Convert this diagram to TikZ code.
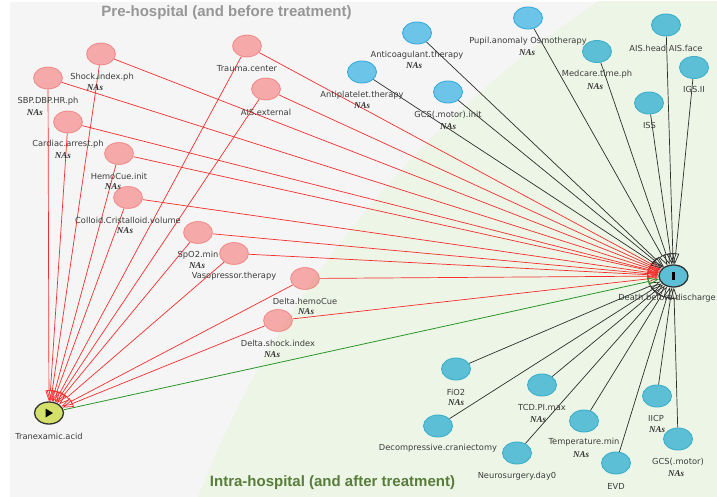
\documentclass[tikz,border=0pt]{standalone}
\usepackage{fontspec}
\setmainfont{DejaVu Sans}
\newfontfamily\nasfont{Liberation Serif}
\newfontfamily\ttlfont{Liberation Sans}
\usetikzlibrary{arrows.meta,shapes.geometric}
\definecolor{bggray}{RGB}{245,245,245}
\definecolor{bggreen}{RGB}{237,245,230}
\definecolor{pinkfill}{RGB}{246,55,55}
\definecolor{pinkdraw}{RGB}{240,90,90}
\definecolor{lbfill}{RGB}{108,196,232}
\definecolor{lbdraw}{RGB}{58,172,224}
\definecolor{tlfill}{RGB}{92,191,213}
\definecolor{tldraw}{RGB}{62,176,204}
\definecolor{yfill}{RGB}{212,224,106}
\definecolor{darkst}{RGB}{51,51,51}
\definecolor{edgered}{RGB}{245,45,45}
\definecolor{edgeblk}{RGB}{45,45,45}
\definecolor{edgegrn}{RGB}{40,150,40}
\definecolor{labtxt}{RGB}{60,60,60}
\definecolor{ttlgray}{RGB}{150,150,150}
\definecolor{ttlgreen}{RGB}{88,125,58}
\pgfdeclarelayer{bglayer}
\pgfdeclarelayer{edgelayer}
\pgfsetlayers{bglayer,edgelayer,main}
\tikzset{
  nd/.style={ellipse, minimum width=29pt, minimum height=22pt, inner sep=0pt, line width=0.9pt},
  pinknd/.style={nd, fill=pinkfill, fill opacity=0.4, draw=pinkdraw, draw opacity=0.5},
  lbnd/.style={nd, fill=lbfill, draw=lbdraw},
  tlnd/.style={nd, fill=tlfill, draw=tldraw},
  lab/.style={inner sep=0pt, text=labtxt, font=\fontsize{8.3}{9}\selectfont},
  nas/.style={inner sep=0pt, text=darkst, font=\nasfont\bfseries\itshape\fontsize{9}{10}\selectfont},
  ttl/.style={inner sep=0pt, font=\ttlfont\bfseries\fontsize{15}{17}\selectfont},
  tipsty/.style={-{Triangle[open,length=11pt,width=7pt]}},
  redarr/.style={draw=edgered, line width=0.7pt, tipsty},
  blkarr/.style={draw=edgeblk, line width=0.7pt, tipsty},
  grnarr/.style={draw=edgegrn, line width=0.8pt, tipsty},
}
\begin{document}
\begin{tikzpicture}[x=1pt,y=-1pt]
\useasboundingbox (0,0) rectangle (717,497);
\begin{pgfonlayer}{bglayer}
  \fill[white] (0,0) rectangle (717,497);
  \fill[bggray] (10,2) rectangle (717,497);
  \begin{scope}
    \clip (10,2) rectangle (717,497);
    \fill[bggreen] (1176,877) circle[radius=1049pt];
  \end{scope}
\end{pgfonlayer}

% titles
\node[ttl, text=ttlgray] (t1) at (226.5,13) {Pre-hospital (and before treatment)};
\node[ttl, text=ttlgreen] (t2) at (332.5,483) {Intra-hospital (and after treatment)};

% pink nodes
\node[pinknd] (shock) at (101,54) {};
\node[lab] (shockL) at (102,77) {Shock.index.ph};
\node[nas] (shockN) at (95,87.5) {NAs};
\node[pinknd] (sbp) at (48,78) {};
\node[lab] (sbpL) at (48,101) {SBP.DBP.HR.ph};
\node[nas] (sbpN) at (35,113) {NAs};
\node[pinknd] (trauma) at (247,46) {};
\node[lab] (traumaL) at (247,68.5) {Trauma.center};
\node[pinknd] (aisext) at (266,89) {};
\node[lab] (aisextL) at (266,112) {AIS.external};
\node[pinknd] (cardiac) at (68,122) {};
\node[lab] (cardiacL) at (68,144.5) {Cardiac.arrest.ph};
\node[nas] (cardiacN) at (63,155.5) {NAs};
\node[pinknd] (hemo) at (119,153.5) {};
\node[lab] (hemoL) at (119,176) {HemoCue.init};
\node[nas] (hemoN) at (113,186.5) {NAs};
\node[pinknd] (colloid) at (128,197.5) {};
\node[lab] (colloidL) at (128,220) {Colloid.Cristalloid.volume};
\node[nas] (colloidN) at (125,230.5) {NAs};
\node[pinknd] (spo) at (198,232.5) {};
\node[lab] (spoL) at (198,255) {SpO2.min};
\node[nas] (spoN) at (197,266) {NAs};
\node[pinknd] (vaso) at (234,253.5) {};
\node[lab] (vasoL) at (234,276) {Vasopressor.therapy};
\node[pinknd] (dhemo) at (305,278.5) {};
\node[lab] (dhemoL) at (305,301) {Delta.hemoCue};
\node[nas] (dhemoN) at (306,311.5) {NAs};
\node[pinknd] (dshock) at (278,320.5) {};
\node[lab] (dshockL) at (278,343) {Delta.shock.index};
\node[nas] (dshockN) at (272,355) {NAs};

% exposure
\node[nd, fill=yfill, draw=darkst, line width=1.3pt] (tranex) at (49,413) {};
\node[lab] (tranexL) at (49,436) {Tranexamic.acid};
\fill[black] (45.5,408.5) -- (45.5,417.5) -- (53,413) -- cycle;

% outcome
\node[nd, fill=tlfill, draw=darkst, line width=1.3pt] (death) at (673.5,276) {};
\node[lab, anchor=east] (deathL) at (716,298) {Death.before.discharge};
\fill[black] (672.3,271.5) rectangle (674.7,279.5);

% light blue nodes
\node[lbnd] (anticoag) at (417,33) {};
\node[lab] (anticoagL) at (417,55) {Anticoagulant.therapy};
\node[nas] (anticoagN) at (414,66) {NAs};
\node[lbnd] (antiplat) at (362,72) {};
\node[lab] (antiplatL) at (362,95) {Antiplatelet.therapy};
\node[nas] (antiplatN) at (362,105.5) {NAs};
\node[lbnd] (gcsinit) at (448,92) {};
\node[lab] (gcsinitL) at (448,115) {GCS(.motor).init};
\node[nas] (gcsinitN) at (448,127) {NAs};
\node[lbnd] (pupil) at (528,18) {};
\node[lab] (pupilL) at (528,41) {Pupil.anomaly Osmotherapy};
\node[nas] (pupilN) at (527,52.5) {NAs};

% teal nodes
\node[tlnd] (medcare) at (597,51.5) {};
\node[lab] (medcareL) at (597,74) {Medcare.time.ph};
\node[nas] (medcareN) at (595,86.5) {NAs};
\node[tlnd] (aishead) at (666,25) {};
\node[lab] (aisheadL) at (666,48) {AIS.head AIS.face};
\node[tlnd] (igs) at (694,67.5) {};
\node[lab] (igsL) at (694,89.5) {IGS.II};
\node[tlnd] (iss) at (649,103) {};
\node[lab] (issL) at (649.5,125.5) {ISS};
\node[tlnd] (fio) at (456,369) {};
\node[lab] (fioL) at (456,392) {FiO2};
\node[nas] (fioN) at (456,402.5) {NAs};
\node[tlnd] (tcd) at (542,385) {};
\node[lab] (tcdL) at (542,407) {TCD.PI.max};
\node[nas] (tcdN) at (538,420) {NAs};
\node[tlnd] (decomp) at (438,426) {};
\node[lab] (decompL) at (438,448) {Decompressive.craniectomy};
\node[tlnd] (temp) at (584,421) {};
\node[lab] (tempL) at (584,442.5) {Temperature.min};
\node[nas] (tempN) at (581,455) {NAs};
\node[tlnd] (iicp) at (657,396) {};
\node[lab] (iicpL) at (656,418) {IICP};
\node[nas] (iicpN) at (657,430) {NAs};
\node[tlnd] (gcsm) at (678,439) {};
\node[lab] (gcsmL) at (678,461.5) {GCS(.motor)};
\node[nas] (gcsmN) at (676,473.5) {NAs};
\node[tlnd] (neuro) at (517,453) {};
\node[lab] (neuroL) at (517,476) {Neurosurgery.day0};
\node[tlnd] (evd) at (616,463) {};
\node[lab] (evdL) at (616,486) {EVD};

% edges
\begin{pgfonlayer}{edgelayer}
\foreach \s in {shock,sbp,trauma,aisext,cardiac,hemo,colloid,spo,vaso,dhemo,dshock}{
  \draw[redarr] (\s) -- (tranex);
  \draw[redarr] (\s) -- (death);
}
\foreach \s in {anticoag,antiplat,gcsinit,pupil,medcare,aishead,igs,iss,fio,tcd,decomp,temp,iicp,gcsm,neuro,evd}{
  \draw[blkarr] (\s) -- (death);
}
\draw[grnarr] (tranex) -- (death);
\end{pgfonlayer}
\end{tikzpicture}
\end{document}
